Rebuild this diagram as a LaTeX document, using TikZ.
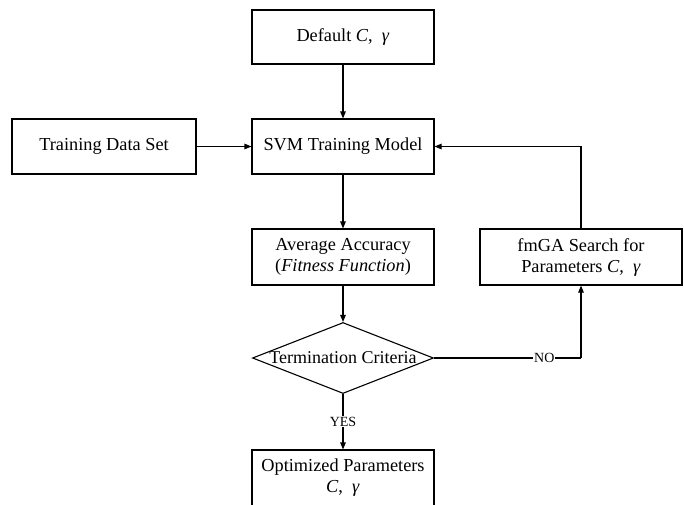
\documentclass[tikz,border=0pt]{standalone}
\usepackage{fontspec}
\setmainfont{Liberation Serif}
\usetikzlibrary{shapes.geometric,arrows.meta}
\newcommand{\cg}{\textit{C}, \ \textit{γ}}
\begin{document}
\begin{tikzpicture}[x=1pt,y=-1pt,
  box/.style={draw, line width=1.1pt, inner sep=0pt, align=center,
    font=\fontsize{18.3}{21}\selectfont},
  decision/.style={draw, diamond, line width=1.1pt, inner sep=0pt,
    minimum width=181pt, minimum height=71pt},
  flow/.style={line width=1.1pt, -{Triangle[length=7pt,width=5.5pt]}},
  plain/.style={line width=1.1pt},
  tag/.style={fill=white, inner sep=1pt, font=\fontsize{14}{16}\selectfont}]
\useasboundingbox (0,0) rectangle (684,504);
\clip (0,0) rectangle (684,504);

% process boxes
\node[box, minimum width=182pt, minimum height=54pt] (def) at (343,37) {Default \cg};
\node[box, minimum width=182pt, minimum height=55pt] (svm) at (343,146.5) {SVM Training Model};
\node[box, minimum width=184pt, minimum height=55pt] (train) at (104,146.5) {Training Data Set};
\node[box, minimum width=182pt, minimum height=56pt] (avg) at (343,257) {Average Accuracy\\(\textit{Fitness Function})};
\node[box, minimum width=202pt, minimum height=56pt] (fmga) at (581,257) {fmGA Search for\\Parameters \cg};
% decision
\node[decision, label={[font=\fontsize{18}{21}\selectfont]center:Termination Criteria}] (term) at (343,358) {};
% result box, running past the lower edge
\node[box, minimum width=182pt, minimum height=56pt] (opt) at (343,478) {Optimized Parameters\\\cg};

\coordinate (turn) at (fmga.south |- term.east);

\draw[flow] (def.south) -- (svm.north);
\draw[flow] (train.east) -- (svm.west);
\draw[flow] (svm.south) -- (avg.north);
\draw[flow] (avg.south) -- (term.north);
\draw[flow] (term.south) -- node[tag]{YES} (opt.north);
\draw[plain] (term.east) -- node[tag, pos=0.75]{NO} (turn);
\draw[flow] (turn) -- (fmga.south);
\draw[flow] (fmga.north) |- (svm.east);
\end{tikzpicture}
\end{document}
